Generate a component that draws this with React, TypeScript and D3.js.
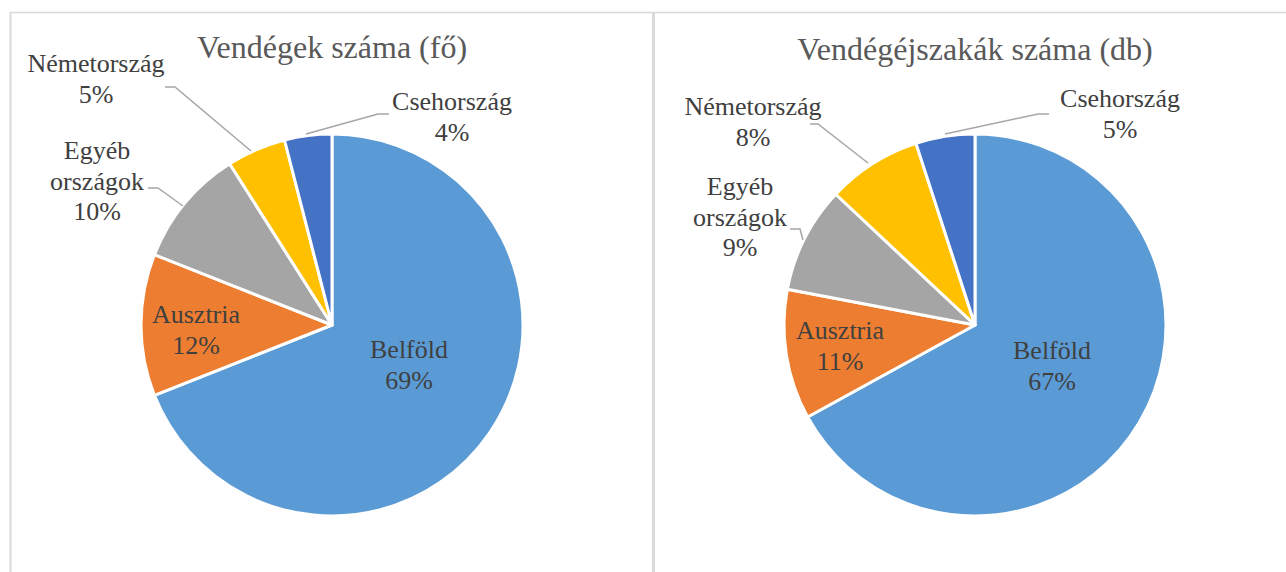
import React from "react";
import * as d3 from "d3";

const categories = ["Belföld", "Ausztria", "Egyéb országok", "Németország", "Csehország"];
const guestsValues = [69, 12, 10, 5, 4];
const nightsValues = [67, 11, 9, 8, 5];
const titles = ["Vendégek száma (fő)", "Vendégéjszakák száma (db)"];
const colors = ["#5B9BD5", "#ED7D31", "#A5A5A5", "#FFC000", "#4472C4"];

type LabelPos = { x: number; y: number; lines: string[]; leader?: [number, number][] };

const W = 1286;
const H = 572;
const R = 191;
const FONT = "Liberation Serif";

const panels = [
  {
    title: titles[0],
    values: guestsValues,
    cx: 332,
    cy: 325,
    titleX: 332,
    titleY: 58,
    labels: [
      { x: 409, y: 351, lines: ["Belföld"] },
      { x: 196, y: 316, lines: ["Ausztria"] },
      { x: 97, y: 152, lines: ["Egyéb", "országok"], leader: [[148, 188], [158, 188], [183, 206]] },
      { x: 96, y: 65, lines: ["Németország"], leader: [[165, 87], [175, 87], [251, 151]] },
      { x: 452, y: 103, lines: ["Csehország"], leader: [[389, 114], [378, 114], [306, 134]] },
    ] as LabelPos[],
  },
  {
    title: titles[1],
    values: nightsValues,
    cx: 975,
    cy: 325,
    titleX: 975,
    titleY: 60,
    labels: [
      { x: 1052, y: 352, lines: ["Belföld"] },
      { x: 840, y: 332, lines: ["Ausztria"] },
      { x: 740, y: 188, lines: ["Egyéb", "országok"], leader: [[790, 229], [800, 229], [803, 240]] },
      { x: 753, y: 108, lines: ["Németország"], leader: [[810, 124], [818, 124], [868, 163]] },
      { x: 1120, y: 100, lines: ["Csehország"], leader: [[1049, 114], [1038, 114], [945, 134]] },
    ] as LabelPos[],
  },
];

function Pie({ panel }: { panel: (typeof panels)[number] }) {
  const pie = d3
    .pie<number>()
    .sort(null)
    .value((d) => d)
    .startAngle(0)
    .endAngle(2 * Math.PI);
  const arc = d3.arc<d3.PieArcDatum<number>>().innerRadius(0).outerRadius(R);
  const arcs = pie(panel.values);
  const line = d3.line();
  const total = d3.sum(panel.values);
  return (
    <g>
      <text
        x={panel.titleX}
        y={panel.titleY}
        textAnchor="middle"
        style={{ fontFamily: FONT, fontSize: "32px" }}
        fill="#595959"
      >
        {panel.title}
      </text>
      <g transform={`translate(${panel.cx},${panel.cy})`}>
        {arcs.map((a, i) => (
          <path key={i} d={arc(a) || ""} fill={colors[i]} stroke="#fff" strokeWidth={3} strokeLinejoin="round" />
        ))}
      </g>
      {panel.labels.map((l, i) =>
        l.leader ? (
          <path key={"l" + i} d={line(l.leader) || ""} fill="none" stroke="#a6a6a6" strokeWidth={1.5} />
        ) : null
      )}
      {panel.labels.map((l, i) => {
        const pct = Math.round((panel.values[i] / total) * 100) + "%";
        const lines = [...l.lines, pct];
        return (
          <text key={"t" + i} textAnchor="middle" style={{ fontFamily: FONT, fontSize: "26px" }} fill="#404040">
            {lines.map((s, j) => (
              <tspan key={j} x={l.x} y={l.y + j * 30.5 + 7}>
                {s}
              </tspan>
            ))}
          </text>
        );
      })}
    </g>
  );
}

export default function App() {
  return (
    <svg
      width={W}
      height={H}
      style={{ position: "absolute", left: 0, top: 0, background: "#fff" }}
    >
      <rect x={0} y={0} width={W} height={H} fill="#fff" />
      <line x1={10} y1={12.5} x2={W} y2={12.5} stroke="#d9d9d9" strokeWidth={1.5} />
      <line x1={10.5} y1={12} x2={10.5} y2={H} stroke="#d9d9d9" strokeWidth={2} />
      <line x1={653.5} y1={12} x2={653.5} y2={H} stroke="#d9d9d9" strokeWidth={3} />
      {panels.map((p, i) => (
        <Pie key={i} panel={p} />
      ))}
    </svg>
  );
}
